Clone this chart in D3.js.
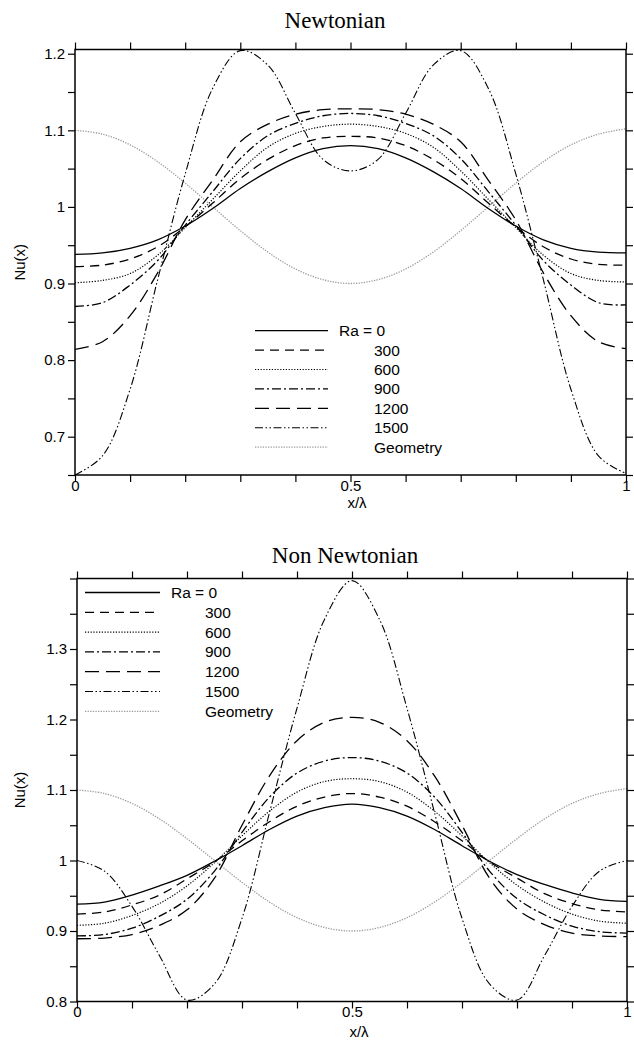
<!DOCTYPE html>
<html>
<head>
<meta charset="utf-8">
<script src="https://cdn.jsdelivr.net/npm/d3@7"></script>
<style>
  body { margin: 0; background: #fff; }
  svg { display: block; }
</style>
</head>
<body>
<svg width="634" height="1041"></svg>
<script>
const svg = d3.select("svg");

// sample positions along x/lambda
const xPos = [0, 0.05, 0.1, 0.15, 0.2, 0.25, 0.3, 0.35, 0.4, 0.45, 0.5,
              0.55, 0.6, 0.65, 0.7, 0.75, 0.8, 0.85, 0.9, 0.95, 1];

const legendLabels = ["Ra = 0", "300", "600", "900", "1200", "1500", "Geometry"];

// wall shape, same for both panels
const geometry = [1.100, 1.095, 1.081, 1.059, 1.031, 1.000, 0.969, 0.941, 0.919, 0.905, 0.900,
                  0.905, 0.919, 0.941, 0.969, 1.000, 1.031, 1.059, 1.081, 1.095, 1.102];

// Newtonian Nu(x)
const newtRa0    = [0.938, 0.940, 0.946, 0.957, 0.975, 0.998, 1.024, 1.046, 1.064, 1.076, 1.080,
                    1.076, 1.064, 1.046, 1.024, 0.998, 0.975, 0.957, 0.946, 0.941, 0.940];
const newtRa300  = [0.922, 0.924, 0.932, 0.948, 0.974, 1.005, 1.037, 1.062, 1.080, 1.090, 1.092,
                    1.090, 1.080, 1.062, 1.037, 1.005, 0.974, 0.948, 0.932, 0.925, 0.924];
const newtRa600  = [0.901, 0.904, 0.913, 0.937, 0.973, 1.010, 1.047, 1.078, 1.096, 1.105, 1.108,
                    1.105, 1.096, 1.078, 1.047, 1.010, 0.973, 0.937, 0.913, 0.904, 0.902];
const newtRa900  = [0.870, 0.875, 0.898, 0.930, 0.976, 1.020, 1.063, 1.093, 1.109, 1.119, 1.122,
                    1.119, 1.109, 1.093, 1.063, 1.020, 0.976, 0.930, 0.898, 0.875, 0.872];
const newtRa1200 = [0.814, 0.824, 0.858, 0.914, 0.983, 1.035, 1.085, 1.108, 1.121, 1.127, 1.128,
                    1.127, 1.121, 1.108, 1.085, 1.035, 0.983, 0.914, 0.858, 0.824, 0.815];
const newtRa1500 = [0.650, 0.675, 0.762, 0.905, 1.043, 1.155, 1.204, 1.185, 1.122, 1.062, 1.047,
                    1.062, 1.122, 1.185, 1.204, 1.155, 1.043, 0.905, 0.762, 0.675, 0.652];

// Non Newtonian Nu(x)
const nonRa0    = [0.938, 0.941, 0.951, 0.964, 0.979, 0.999, 1.021, 1.044, 1.063, 1.075, 1.080,
                   1.075, 1.063, 1.044, 1.021, 0.999, 0.980, 0.966, 0.954, 0.945, 0.942];
const nonRa300  = [0.924, 0.927, 0.937, 0.951, 0.974, 0.998, 1.028, 1.055, 1.077, 1.090, 1.095,
                   1.090, 1.077, 1.055, 1.028, 0.998, 0.975, 0.953, 0.939, 0.930, 0.927];
const nonRa600  = [0.908, 0.911, 0.922, 0.939, 0.964, 0.997, 1.035, 1.070, 1.097, 1.112, 1.116,
                   1.112, 1.097, 1.070, 1.035, 0.997, 0.965, 0.941, 0.924, 0.914, 0.911];
const nonRa900  = [0.893, 0.895, 0.904, 0.921, 0.945, 0.985, 1.040, 1.090, 1.124, 1.141, 1.146,
                   1.141, 1.124, 1.090, 1.040, 0.985, 0.946, 0.923, 0.907, 0.899, 0.897];
const nonRa1200 = [0.889, 0.890, 0.895, 0.908, 0.930, 0.975, 1.050, 1.120, 1.170, 1.196, 1.203,
                   1.196, 1.170, 1.120, 1.050, 0.975, 0.931, 0.909, 0.897, 0.893, 0.892];
const nonRa1500 = [1.000, 0.985, 0.935, 0.865, 0.802, 0.825, 0.918, 1.068, 1.216, 1.342, 1.397,
                   1.342, 1.216, 1.068, 0.918, 0.825, 0.802, 0.865, 0.935, 0.985, 1.000];

// axis ticks
const xTicks = [0, 0.1, 0.2, 0.3, 0.4, 0.5, 0.6, 0.7, 0.8, 0.9, 1];
const xTickLabels = [0, 0.5, 1];
const yTicksTop = [0.65, 0.7, 0.75, 0.8, 0.85, 0.9, 0.95, 1, 1.05, 1.1, 1.15, 1.2];
const yLabelsTop = [0.7, 0.8, 0.9, 1, 1.1, 1.2];
const yTicksBottom = [0.8, 0.85, 0.9, 0.95, 1, 1.05, 1.1, 1.15, 1.2, 1.25, 1.3, 1.35, 1.4];
const yLabelsBottom = [0.8, 0.9, 1, 1.1, 1.2, 1.3];

// line styles, in legend order
const lineDash  = [null, "9,6", "1.2,1.6", "9,3,2,3", "14,7", "8,2.5,1.5,2.5,1.5,2.5", "1.3,1.3"];
const lineColor = ["#000", "#000", "#000", "#000", "#000", "#000", "#9c9c9c"];
const lineWidth = [1.3, 1.3, 1.2, 1.3, 1.3, 1.1, 1.3];

const sansFont = "'Liberation Sans', Arial, Helvetica, sans-serif";
const serifFont = "'Liberation Serif', 'Times New Roman', serif";

function hasLabel(list, d) {
  return list.some(v => Math.abs(v - d) < 1e-9);
}

function styleAxis(g) {
  g.select(".domain").remove();
  g.selectAll(".tick line").attr("stroke", "#000").attr("stroke-width", 1.2);
  g.selectAll(".tick text")
    .attr("fill", "#000")
    .style("font-family", sansFont)
    .style("font-size", "15px");
}

function drawPanel(p) {
  const x = d3.scaleLinear().domain([0, 1]).range([p.left, p.right]);
  const y = d3.scaleLinear().domain(p.yDomain).range([p.bottom, p.top]);
  const g = svg.append("g");

  g.append("clipPath").attr("id", p.id)
    .append("rect")
    .attr("x", p.left).attr("y", p.top)
    .attr("width", p.right - p.left).attr("height", p.bottom - p.top);

  // ticks on all four sides, pointing out
  g.append("g").attr("transform", `translate(${p.left},0)`)
    .call(d3.axisLeft(y).tickValues(p.yTicks).tickSize(7).tickPadding(3)
      .tickFormat(d => hasLabel(p.yLabels, d) ? String(+d.toFixed(2)) : ""))
    .call(styleAxis);
  g.append("g").attr("transform", `translate(${p.right},0)`)
    .call(d3.axisRight(y).tickValues(p.yTicks).tickSize(7).tickFormat(""))
    .call(styleAxis);
  g.append("g").attr("transform", `translate(0,${p.top})`)
    .call(d3.axisTop(x).tickValues(xTicks).tickSize(7).tickFormat(""))
    .call(styleAxis);
  g.append("g").attr("transform", `translate(0,${p.bottom})`)
    .call(d3.axisBottom(x).tickValues(xTicks).tickSize(7).tickPadding(-2)
      .tickFormat(d => hasLabel(xTickLabels, d) ? String(+d.toFixed(2)) : ""))
    .call(styleAxis);

  const line = d3.line()
    .x((d, i) => x(xPos[i]))
    .y(d => y(d))
    .curve(d3.curveCatmullRom);

  // geometry first so the Nu curves sit on top
  const order = [6, 0, 1, 2, 3, 4, 5];
  g.append("g").attr("clip-path", `url(#${p.id})`)
    .selectAll("path")
    .data(order)
    .join("path")
    .attr("d", i => line(p.series[i]))
    .attr("fill", "none")
    .attr("stroke", i => lineColor[i])
    .attr("stroke-width", i => lineWidth[i])
    .attr("stroke-dasharray", i => lineDash[i]);

  // frame
  g.append("rect")
    .attr("x", p.left).attr("y", p.top)
    .attr("width", p.right - p.left).attr("height", p.bottom - p.top)
    .attr("fill", "none").attr("stroke", "#000").attr("stroke-width", 1.5);

  // titles
  g.append("text")
    .attr("x", p.titleX).attr("y", p.titleY)
    .attr("text-anchor", "middle")
    .style("font-family", serifFont).style("font-size", "23px")
    .text(p.title);

  g.append("text")
    .attr("x", p.xLabelX).attr("y", p.xLabelY)
    .attr("text-anchor", "middle")
    .style("font-family", sansFont).style("font-size", "15px")
    .text("x/λ");

  g.append("text")
    .attr("transform", `translate(25,${(p.top + p.bottom) / 2}) rotate(-90)`)
    .attr("text-anchor", "middle")
    .style("font-family", sansFont).style("font-size", "15px")
    .text("Nu(x)");

  // legend
  const lg = g.append("g");
  const rows = lg.selectAll("g")
    .data(legendLabels)
    .join("g")
    .attr("transform", (d, i) => `translate(0,${p.legY + i * p.legStep})`);
  rows.append("line")
    .attr("x1", p.legX1).attr("x2", p.legX2)
    .attr("stroke", (d, i) => lineColor[i])
    .attr("stroke-width", (d, i) => lineWidth[i])
    .attr("stroke-dasharray", (d, i) => lineDash[i]);
  rows.append("text")
    .attr("x", (d, i) => i === 0 ? p.legText0 : p.legText)
    .attr("y", 5.5)
    .style("font-family", sansFont).style("font-size", "15.5px")
    .text(d => d);
}

drawPanel({
  id: "clip-newt",
  left: 75, right: 626, top: 49.5, bottom: 475,
  yDomain: [0.65, 1.2055],
  yTicks: yTicksTop, yLabels: yLabelsTop,
  series: [newtRa0, newtRa300, newtRa600, newtRa900, newtRa1200, newtRa1500, geometry],
  title: "Newtonian", titleX: 335, titleY: 28,
  xLabelX: 357, xLabelY: 508,
  legX1: 255, legX2: 328, legY: 330.7, legStep: 19.4, legText0: 339, legText: 374
});

drawPanel({
  id: "clip-non",
  left: 77, right: 627, top: 578.5, bottom: 1001.5,
  yDomain: [0.8, 1.4],
  yTicks: yTicksBottom, yLabels: yLabelsBottom,
  series: [nonRa0, nonRa300, nonRa600, nonRa900, nonRa1200, nonRa1500, geometry],
  title: "Non Newtonian", titleX: 345, titleY: 563,
  xLabelX: 359, xLabelY: 1036.5,
  legX1: 85, legX2: 160, legY: 592.5, legStep: 19.8, legText0: 171, legText: 205
});
</script>
</body>
</html>
